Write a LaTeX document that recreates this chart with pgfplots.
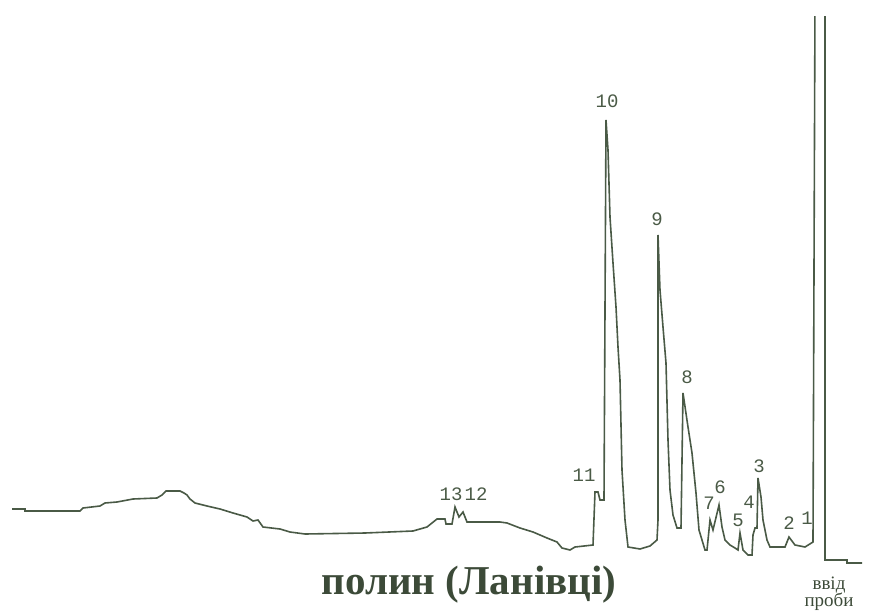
\documentclass[border=0pt]{standalone}
\usepackage{fontspec}
\setmainfont{Liberation Serif}
\newfontfamily\mono{Liberation Mono}
\usepackage{pgfplots}
\pgfplotsset{compat=1.18}
\definecolor{trace}{HTML}{4A5A46}
\definecolor{ttl}{HTML}{3C4A38}
\begin{document}
\begin{tikzpicture}
\begin{axis}[
  x=0.5pt, y=0.5pt, y dir=reverse,
  xmin=0, xmax=869, ymin=16, ymax=612,
  hide axis, clip=true,
]
\addplot[trace, line width=0.8pt, line join=miter] coordinates {
(12,509) (25,509) (25,511) (80,511) (83,508) (100,506) (105,503) (117,502)
(133,499) (157,498) (162,495) (166,491) (180,491) (184,493) (187,495) (190,499)
(195,503) (207,506) (220,509) (233,513) (247,517) (253,521) (258,520) (263,527)
(280,529) (290,532) (305,534) (365,533) (413,531) (427,527) (437,519) (445,519)
(446,524) (452,524) (455,507) (459,517) (463,512) (467,522) (500,522) (507,523)
(520,528) (533,532) (547,538) (557,542) (562,548) (570,550) (575,547) (593,545)
(595,492) (598,492) (600,500) (604,500) (606,120) (608,150) (610,217) (613,263)
(616,307) (618,347) (620,380) (622,470) (625,520) (628,547) (640,549) (650,546)
(657,540) (658,520) (658,235) (660,290) (663,327) (666,363) (668,440) (670,490)
(673,515) (677,528) (681,528) (683,393) (688,427) (692,453) (696,493) (699,530)
(705,550) (707,550) (710,520) (713,530) (719,505) (722,527) (725,540) (730,545)
(735,548) (738,550) (740,533) (743,550) (748,555) (752,555) (753,535) (755,528)
(757,528) (758,478) (761,497) (763,520) (767,540) (770,547) (785,547) (789,537)
(795,545) (805,547) (813,542) (815,0) (825,0) (825,560) (847,560) (847,563) (862,563)
};
\end{axis}
\begin{scope}[x=0.5pt, y=-0.5pt, yshift=306pt]
\path (0,0) (869,612);
\begin{scope}[every node/.style={font=\mono\fontsize{9.5}{10}\selectfont, text=trace, inner sep=0pt}]
\node at (607,101) {10};
\node at (657,219) {9};
\node at (687,377) {8};
\node at (584,475) {11};
\node at (709,503) {7};
\node at (720,487) {6};
\node at (738,520) {5};
\node at (749,502) {4};
\node at (759,466) {3};
\node at (789,523) {2};
\node at (807,518) {1};
\node at (451,494) {13};
\node at (476,494) {12};
\end{scope}
\node[font=\bfseries\fontsize{20.5}{22}\selectfont, text=ttl, inner sep=0pt] at (469,585) {полин (Ланівці)};
\node[font=\fontsize{9.5}{10}\selectfont, text=ttl, inner sep=0pt] at (829,585) {ввід};
\node[font=\fontsize{9.5}{10}\selectfont, text=ttl, inner sep=0pt] at (829,602) {проби};
\end{scope}
\end{tikzpicture}
\end{document}
